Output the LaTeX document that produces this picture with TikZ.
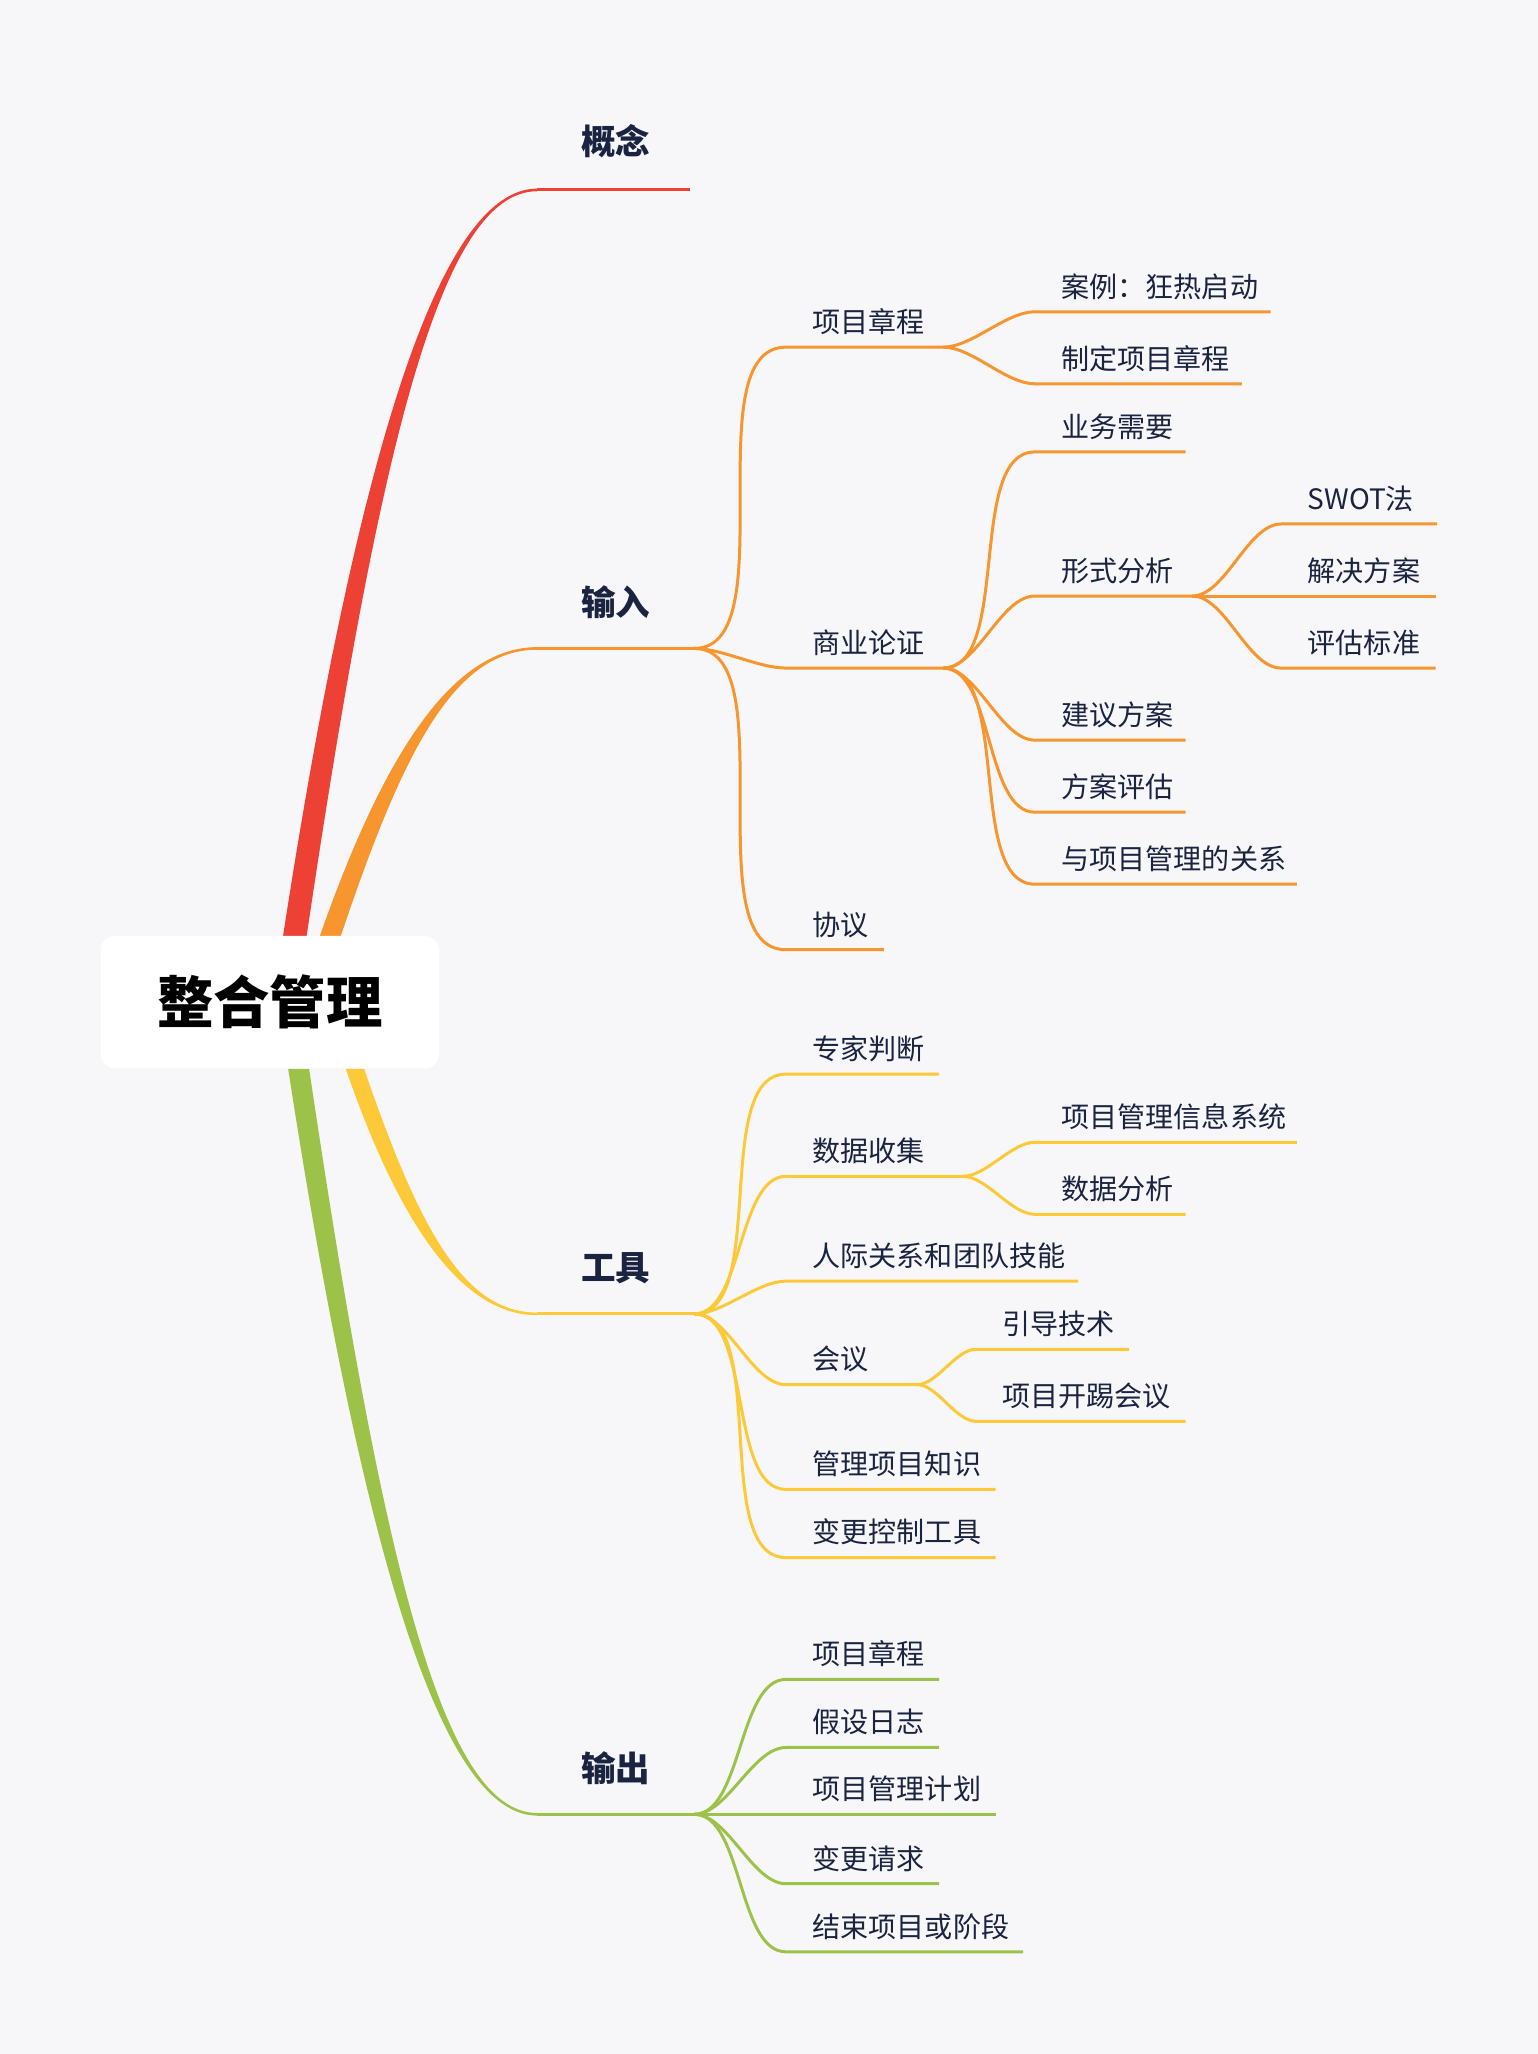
\documentclass[tikz,border=0pt]{standalone}
\usepackage{fontspec}
\setmainfont{Noto Sans CJK SC}
\usetikzlibrary{positioning}
\definecolor{bgcol}{HTML}{F7F7F9}
\definecolor{txtcol}{HTML}{1A2340}
\definecolor{cred}{HTML}{EE4136}
\definecolor{corange}{HTML}{F7962E}
\definecolor{cyellow}{HTML}{FDC938}
\definecolor{cgreen}{HTML}{9DC24A}
\tikzset{
  lbl/.style={text=txtcol, inner sep=0pt, anchor=south west, font=\fontsize{12.2}{14}\selectfont},
  toplbl/.style={text=txtcol, inner sep=0pt, font=\fontsize{15}{17}\selectfont\bfseries},
  twigline/.style={line width=1.3pt},
  sig/.style={out=0, in=180, looseness=0.75}
}
% #1 colour, #2 parent, #3 x start, #4 y, #5 x end, #6 text, #7 name
\newcommand\twig[7]{%
  \coordinate (#7) at (#5,#4);
  \draw[twigline, #1] (#2) to[sig] (#3,#4) -- (#7);
  \node[lbl] (#7-t) at (#3+20,#4-9) {#6};
}
\begin{document}
\begin{tikzpicture}[x=0.02cm, y=-0.02cm]
  \fill[bgcol] (0,0) rectangle (1174,1568);
  \useasboundingbox (0,0) rectangle (1174,1568);
  % trunks
  \fill[cred] (216,715) .. controls (273,345) and (336,144) .. (410,144) -- (410,146) .. controls (336,146) and (289,345) .. (234,715) -- cycle;
  \fill[corange] (244,715) .. controls (294,572) and (347,494) .. (410,494) -- (410,496) .. controls (347,496) and (308,572) .. (260,715) -- cycle;
  \fill[cyellow] (264,816) .. controls (306,938) and (354,1004) .. (410,1004) -- (410,1002) .. controls (354,1002) and (320,938) .. (278,816) -- cycle;
  \fill[cgreen] (220,816) .. controls (277,1186) and (337,1386) .. (410,1386) -- (410,1384) .. controls (337,1384) and (291,1186) .. (236,816) -- cycle;
  \coordinate (cpt) at (527,145);
  \coordinate (inp) at (530,495);
  \coordinate (tool) at (530,1003);
  \coordinate (outp) at (530,1385);
  \draw[cred, line width=1.3pt] (410,145) -- (cpt);
  \draw[corange, line width=1.3pt] (410,495) -- (inp);
  \draw[cyellow, line width=1.3pt] (410,1003) -- (tool);
  \draw[cgreen, line width=1.3pt] (410,1385) -- (outp);
  \node[toplbl] (cpt-t) at (470,108) {概念};
  \node[toplbl] (inp-t) at (470,460) {输入};
  \node[toplbl] (tool-t) at (470,968) {工具};
  \node[toplbl] (outp-t) at (470,1350) {输出};
  % root
  \node[fill=white, rounded corners=6pt, minimum width=258*0.02cm, minimum height=101*0.02cm,
        font=\fontsize{24.5}{28}\selectfont\bfseries, text=black] (root) at (206,765) {整合管理};
  % input
  \twig{corange}{inp}{600}{265}{720}{项目章程}{charter}
  \twig{corange}{charter}{790}{238}{970}{案例：狂热启动}{case}
  \twig{corange}{charter}{790}{293}{948}{制定项目章程}{mkchr}
  \twig{corange}{inp}{600}{510}{720}{商业论证}{biz}
  \twig{corange}{biz}{790}{345}{905}{业务需要}{need}
  \twig{corange}{biz}{790}{455}{910}{形式分析}{form}
  \twig{corange}{form}{978}{400}{1097}{SWOT法}{swot}
  \twig{corange}{form}{978}{455}{1096}{解决方案}{sol}
  \twig{corange}{form}{978}{510}{1096}{评估标准}{crit}
  \twig{corange}{biz}{790}{565}{905}{建议方案}{prop}
  \twig{corange}{biz}{790}{620}{905}{方案评估}{eval}
  \twig{corange}{biz}{790}{675}{990}{与项目管理的关系}{rel}
  \twig{corange}{inp}{600}{725}{675}{协议}{agr}
  % tools
  \twig{cyellow}{tool}{600}{820}{717}{专家判断}{exp}
  \twig{cyellow}{tool}{600}{898}{735}{数据收集}{data}
  \twig{cyellow}{data}{790}{872}{990}{项目管理信息系统}{pmis}
  \twig{cyellow}{data}{790}{927}{905}{数据分析}{ana}
  \twig{cyellow}{tool}{600}{978}{823}{人际关系和团队技能}{soft}
  \twig{cyellow}{tool}{600}{1057}{700}{会议}{meet}
  \twig{cyellow}{meet}{745}{1030}{862}{引导技术}{fac}
  \twig{cyellow}{meet}{745}{1085}{905}{项目开踢会议}{kick}
  \twig{cyellow}{tool}{600}{1137}{760}{管理项目知识}{know}
  \twig{cyellow}{tool}{600}{1189}{760}{变更控制工具}{chg}
  % outputs
  \twig{cgreen}{outp}{600}{1282}{717}{项目章程}{ochr}
  \twig{cgreen}{outp}{600}{1334}{717}{假设日志}{alog}
  \twig{cgreen}{outp}{600}{1385}{760}{项目管理计划}{plan}
  \twig{cgreen}{outp}{600}{1438}{717}{变更请求}{creq}
  \twig{cgreen}{outp}{600}{1490}{781}{结束项目或阶段}{close}
\end{tikzpicture}
\end{document}
